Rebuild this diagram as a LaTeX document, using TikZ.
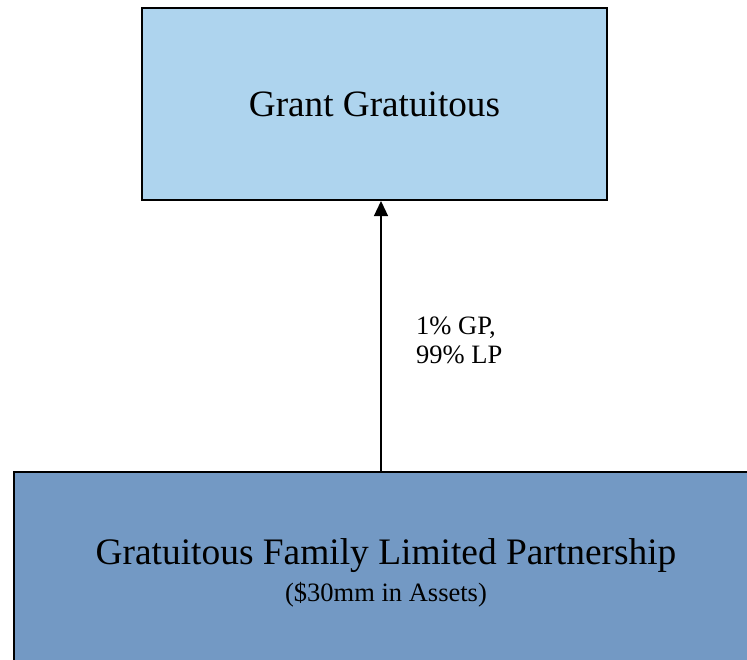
\documentclass[tikz,border=0pt]{standalone}
\usepackage{fontspec}
\setmainfont{Liberation Serif}
\usetikzlibrary{arrows.meta}
\definecolor{topfill}{RGB}{174,212,238}
\definecolor{basefill}{RGB}{115,153,196}
\begin{document}
\begin{tikzpicture}[x=1pt,y=-1pt,
  entity/.style={draw=black, line width=2pt, inner sep=0pt, anchor=north west, align=center},
  bigtext/.style={font=\fontsize{37.2}{44}\selectfont},
  smalltext/.style={font=\fontsize{26.5}{29}\selectfont},
  owns/.style={-{Triangle[width=14pt,length=15pt]}, line width=1.3pt}]
\useasboundingbox (0,0) rectangle (747,659);
\clip (0,0) rectangle (747,659);
% owner and partnership boxes
\node[entity, fill=topfill, minimum width=465pt, minimum height=192pt, bigtext]
  (grant) at (141,7) {Grant Gratuitous};
\node[entity, fill=basefill, minimum width=744pt, minimum height=202pt]
  (flp) at (13,471) {{\fontsize{37.4}{44}\selectfont Gratuitous Family Limited Partnership}\\[9pt]
  {\fontsize{26.5}{29}\selectfont (\$30mm in Assets)}};
% ownership arrow with its label
\coordinate (axis) at (381,330);
\draw[owns] (flp.north -| axis) -- (grant.south -| axis);
\node[smalltext, anchor=west, align=left, inner sep=0pt] (share) at (416,340) {1\% GP,\\99\% LP};
\end{tikzpicture}
\end{document}
